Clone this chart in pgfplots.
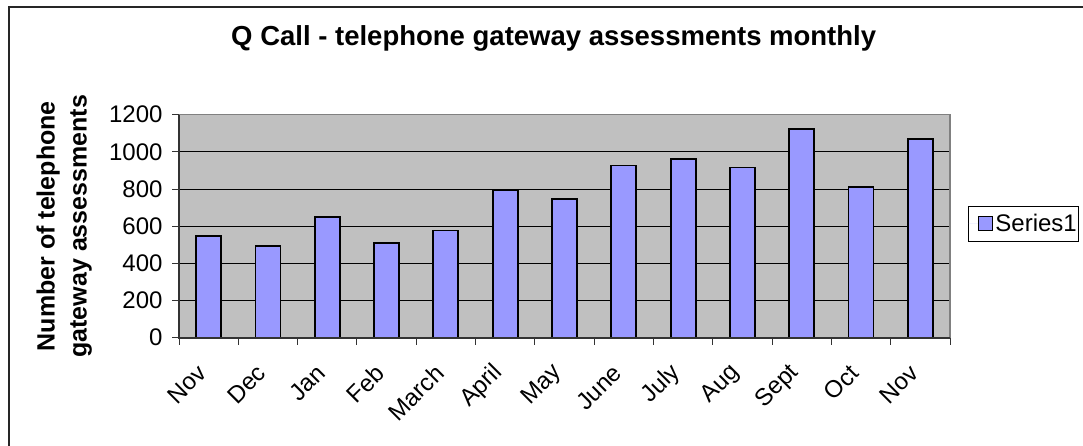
\documentclass[border=0pt]{standalone}
\usepackage{fontspec}
\setmainfont{Liberation Sans}
\usepackage{pgfplots}
\pgfplotsset{compat=1.18}
\definecolor{plotgray}{HTML}{C0C0C0}
\definecolor{barblue}{HTML}{9999FF}
\begin{document}
\begin{tikzpicture}[x=1pt,y=1pt]
\useasboundingbox (0,0) rectangle (1083,445);
% chart area frame (only top and left edges show)
\draw[line width=2pt, black!85] (8.5,-10) -- (8.5,437.5) -- (1100,437.5);
\begin{axis}[
  at={(179pt,107.3pt)}, anchor=south west,
  scale only axis, width=771pt, height=223pt,
  ybar, bar width=25pt,
  xmin=-0.5, xmax=12.5,
  ymin=0, ymax=1200,
  ytick={0,200,...,1200},
  xtick={0,...,12},
  xticklabels={Nov,Dec,Jan,Feb,March,April,May,June,July,Aug,Sept,Oct,Nov},
  minor xtick={-0.5,0.5,...,12.5},
  xtick pos=bottom, ytick pos=left,
  tick align=outside,
  major tick length=7pt, minor tick length=7pt,
  major x tick style={draw=none},
  tick style={black!80, line width=1pt},
  ymajorgrids, major grid style={black, line width=1pt},
  axis background/.style={fill=plotgray},
  axis line style={draw=none},
  /pgf/number format/1000 sep={},
  /pgf/number format/assume math mode=true,
  ticklabel style={font=\fontsize{24}{28}\selectfont},
  y tick label style={xshift=-6pt},
  x tick label style={xshift=-4pt, yshift=-22pt, rotate=45, anchor=east},
  title={Q Call - telephone gateway assessments monthly},
  title style={font=\bfseries\fontsize{27.5}{33}\selectfont, at={(axis description cs:0.486,1.2825)}, anchor=base},
  ylabel={Number of telephone\\gateway assessments},
  ylabel style={font=\bfseries\fontsize{25}{32}\selectfont, align=center, at={(axis description cs:-0.149,0.5)}, anchor=center},
  legend style={at={(axis description cs:1.0233,0.592)}, anchor=north west, draw=black, line width=1pt,
    font=\fontsize{24}{28}\selectfont, inner xsep=0pt, inner ysep=6pt},
  legend image code/.code={
    \path[draw=none] (0pt,0pt) -- (25pt,0pt);
    \draw[fill=barblue, draw=black, line width=1pt] (10pt,-7pt) rectangle (24pt,7pt);},
  after end axis/.code={
    \draw[black!50, line width=1.5pt] (rel axis cs:0,1) -- (rel axis cs:1,1) -- (rel axis cs:1,0);
    \draw[black!80, line width=2pt] (rel axis cs:0,1) -- (rel axis cs:0,0) -- (rel axis cs:1,0);
  },
]
\addplot[fill=barblue, draw=black, line width=1.8pt] coordinates {
(0,548) (1,493) (2,651) (3,509) (4,577) (5,794) (6,747)
(7,927) (8,963) (9,916) (10,1124) (11,812) (12,1069)
};
\legend{Series1\hspace{12pt}}
\end{axis}
\end{tikzpicture}
\end{document}
